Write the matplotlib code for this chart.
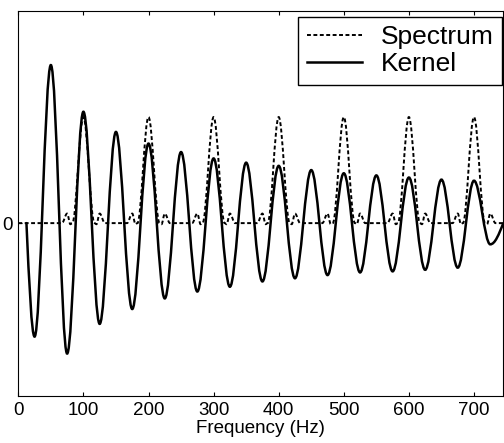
import numpy as np
import matplotlib.pyplot as plt
from matplotlib.path import Path
from matplotlib.patches import PathPatch
from matplotlib.lines import Line2D

plt.rcParams['font.family'] = ['Liberation Sans', 'DejaVu Sans']

# kernel: start/end zero crossings and the extrema in between (Hz, arbitrary units)
kernel_start = 12.5
kernel_end = 745
kernel_freq = [25, 50, 75, 100, 125, 150, 175, 200, 225, 250, 275, 300, 325, 350,
               375, 400, 425, 450, 475, 500, 525, 550, 575, 600, 625, 650, 675, 700, 725]
kernel_val = [-1.07, 1.49, -1.23, 1.05, -0.95, 0.86, -0.81, 0.75, -0.71, 0.67, -0.645, 0.61,
              -0.60, 0.57, -0.55, 0.54, -0.52, 0.50, -0.49, 0.47, -0.465, 0.45, -0.455, 0.43,
              -0.44, 0.41, -0.42, 0.40, -0.20]

# spectrum: harmonic peaks plus small sidelobes on each side
harmonics = [100, 200, 300, 400, 500, 600, 700]
harmonic_peak = [1.0, 1.0, 1.0, 1.0, 1.0, 1.0, 1.0]
lobe_halfwidth = 17
sidelobe_offset = [33, 25, 20]
sidelobe_val = [0.0, 0.09, -0.01]

xticks = [0, 100, 200, 300, 400, 500, 600, 700]


def smooth_path(xs, ys, start_cross=False, end_cross=False):
    # cubic segments with flat tangents at each knot (knots are extrema)
    k = 1 - 2 / np.pi
    verts = [(xs[0], ys[0])]
    codes = [Path.MOVETO]
    n = len(xs)
    for i in range(n - 1):
        x0, y0, x1, y1 = xs[i], ys[i], xs[i + 1], ys[i + 1]
        dx = x1 - x0
        c1 = (x0 + k * dx, y0)
        c2 = (x1 - k * dx, y1)
        if i == 0 and start_cross:
            c1 = (x0 + dx / 3, y1 * 0.52)
        if i == n - 2 and end_cross:
            c2 = (x1 - dx / 3, y0 * 0.52)
        verts += [c1, c2, (x1, y1)]
        codes += [Path.CURVE4] * 3
    return Path(verts, codes)


# knots for the spectrum curve
spec_x = [0]
spec_y = [0]
for h, p in zip(harmonics, harmonic_peak):
    for off, v in zip(sidelobe_offset, sidelobe_val):
        spec_x.append(h - off)
        spec_y.append(v)
    spec_x += [h - lobe_halfwidth, h, h + lobe_halfwidth]
    spec_y += [0, p, 0]
    for off, v in zip(sidelobe_offset[::-1], sidelobe_val[::-1]):
        spec_x.append(h + off)
        spec_y.append(v)
spec_x.append(kernel_end)
spec_y.append(0)

fig = plt.figure(figsize=(5.04, 4.43), dpi=100)
ax = fig.add_axes([18.3 / 504, 47 / 443, 485 / 504, 385 / 443])

kx = [kernel_start] + kernel_freq + [kernel_end]
ky = [0] + kernel_val + [0]
ax.add_patch(PathPatch(smooth_path(kx, ky, True, True), fill=False,
                       edgecolor='black', lw=1.8, capstyle='round'))
ax.add_patch(PathPatch(smooth_path(spec_x, spec_y), fill=False, edgecolor='black',
                       lw=1.4, linestyle=(0, (2.0, 1.3))))

ax.set_xlim(0, 745)
ax.set_ylim(-1.63, 2.0)
ax.set_xticks(xticks)
ax.set_yticks([0])
ax.tick_params(direction='in', top=True, right=True, length=3, labelsize=13.5, pad=4)
ax.set_xlabel('Frequency (Hz)', fontsize=13.5, labelpad=1)

handles = [Line2D([], [], color='black', lw=1.4, linestyle=(0, (2.0, 1.3))),
           Line2D([], [], color='black', lw=1.8)]
leg = ax.legend(handles, ['Spectrum', 'Kernel'], loc='upper right',
                bbox_to_anchor=(0.998, 0.985), borderaxespad=0, fontsize=19,
                handlelength=2.1, handletextpad=0.7, labelspacing=0.1,
                borderpad=0.33, fancybox=False, framealpha=1, edgecolor='black')
leg.get_frame().set_linewidth(1.0)

fig.savefig('out.png', dpi=100)
